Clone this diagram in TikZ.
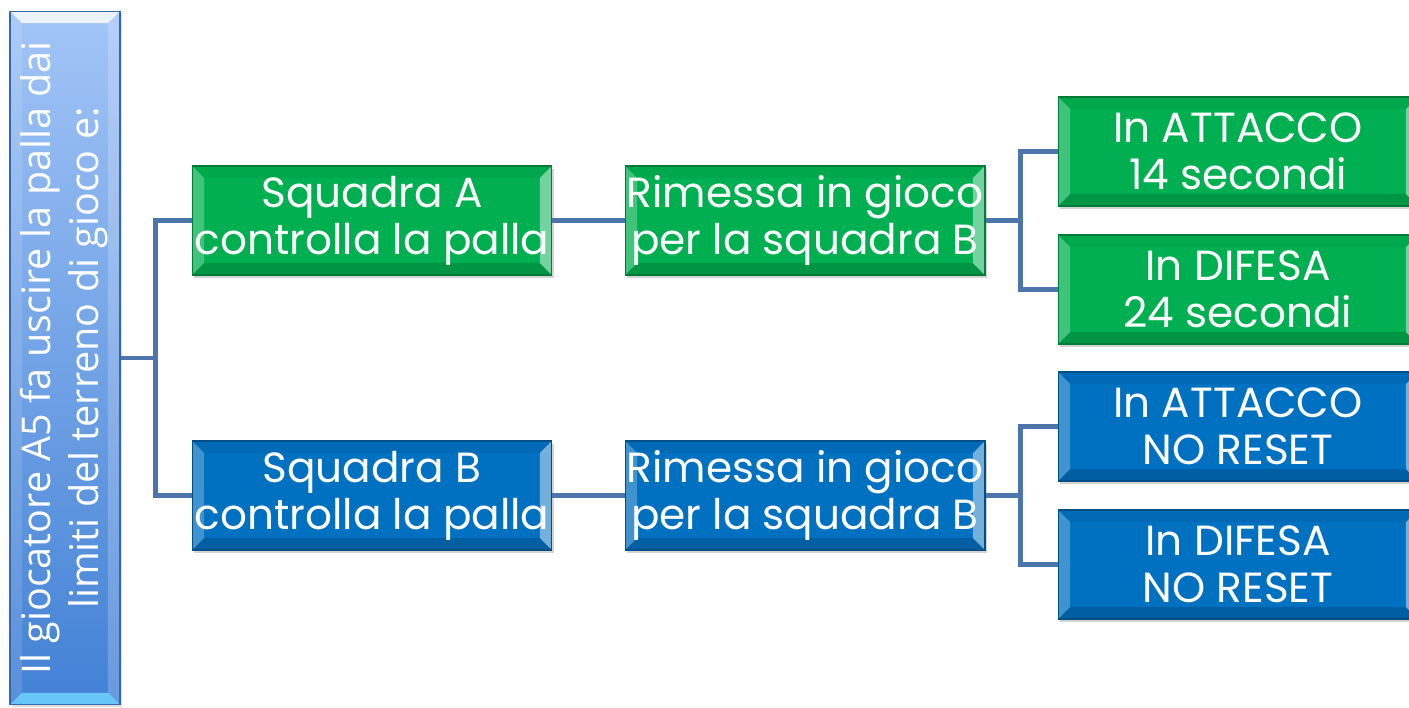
\documentclass[tikz,border=0pt]{standalone}
\usepackage{fontspec}
\newfontfamily\boxfont{Poppins}
\newfontfamily\rootfont{Open Sans}
\usetikzlibrary{shadows}

\definecolor{sqgreen}{HTML}{00B050}
\definecolor{sqblue}{HTML}{0070C0}
\definecolor{linkblue}{HTML}{4E74AC}
\definecolor{roottop}{HTML}{A2C5F7}
\definecolor{rootbot}{HTML}{4281D5}
\definecolor{rootedge}{HTML}{6FD2FF}

\begin{document}
\begin{tikzpicture}[x=0.02cm, y=-0.02cm,
bevel/.style n args={4}{path picture={
    \def\bw{0.24cm}
    % top, bottom, left, right edge of the frame
    \fill[#1] (path picture bounding box.north west) -- (path picture bounding box.north east)
        -- ([shift={(-\bw,-\bw)}]path picture bounding box.north east)
        -- ([shift={(\bw,-\bw)}]path picture bounding box.north west) -- cycle;
    \fill[#2] (path picture bounding box.south west) -- (path picture bounding box.south east)
        -- ([shift={(-\bw,\bw)}]path picture bounding box.south east)
        -- ([shift={(\bw,\bw)}]path picture bounding box.south west) -- cycle;
    \fill[#3] (path picture bounding box.north west) -- (path picture bounding box.south west)
        -- ([shift={(\bw,\bw)}]path picture bounding box.south west)
        -- ([shift={(\bw,-\bw)}]path picture bounding box.north west) -- cycle;
    \fill[#4] (path picture bounding box.north east) -- (path picture bounding box.south east)
        -- ([shift={(-\bw,\bw)}]path picture bounding box.south east)
        -- ([shift={(-\bw,-\bw)}]path picture bounding box.north east) -- cycle;
}},
box/.style={draw=#1!70!black, fill=#1, line width=0.6pt,
    minimum width=7.2cm, minimum height=2.18cm, inner sep=0pt,
    align=center, text=white, font=\boxfont\fontsize{24}{26.7}\selectfont,
    drop shadow={opacity=0.35, shadow xshift=1.2pt, shadow yshift=-1.5pt},
    bevel={black,opacity=.05}{black,opacity=.15}{white,opacity=.25}{white,opacity=.45}},
rootbox/.style={draw=rootbot!80!black, line width=0.6pt, top color=roottop, bottom color=rootbot,
    minimum width=2.2cm, minimum height=13.88cm, inner sep=0pt,
    text=white, font=\rootfont\fontsize{22.5}{27}\selectfont,
    drop shadow={opacity=0.25, shadow xshift=1pt, shadow yshift=-1pt},
    bevel={white,opacity=.8}{rootedge,opacity=.85}{white,opacity=.12}{white,opacity=.2}},
link/.style={linkblue, line width=2.3pt, line join=miter}]

\useasboundingbox (0,0) rectangle (1409,707);

% BOXES
\node[rootbox] (root) at (65,358)
    {\rotatebox{90}{\begin{tabular}{@{}c@{}}Il giocatore A5 fa uscire la palla dai\\limiti del terreno di gioco e:\end{tabular}}};

\node[box=sqgreen] (sqA)  at (372,220.5) {Squadra A\\controlla la palla};
\node[box=sqgreen] (rimA) at (805,220.5) {Rimessa in gioco\\per la squadra B};
\node[box=sqgreen] (attA) at (1238,151.5) {In ATTACCO\\14 secondi};
\node[box=sqgreen] (difA) at (1238,289.5) {In DIFESA\\24 secondi};

\node[box=sqblue] (sqB)  at (372,495.5) {Squadra B\\controlla la palla};
\node[box=sqblue] (rimB) at (805,495.5) {Rimessa in gioco\\per la squadra B};
\node[box=sqblue] (attB) at (1238,426.5) {In ATTACCO\\NO RESET};
\node[box=sqblue] (difB) at (1238,564.5) {In DIFESA\\NO RESET};

% LINKS
\draw[link] (root.east) -- ++(35,0) |- (sqA.west);
\draw[link] (root.east) -- ++(35,0) |- (sqB.west);
\draw[link] (sqA.east) -- (rimA.west);
\draw[link] (sqB.east) -- (rimB.west);
\draw[link] (rimA.east) -- ++(35,0) |- (attA.west);
\draw[link] (rimA.east) -- ++(35,0) |- (difA.west);
\draw[link] (rimB.east) -- ++(35,0) |- (attB.west);
\draw[link] (rimB.east) -- ++(35,0) |- (difB.west);

\end{tikzpicture}
\end{document}
